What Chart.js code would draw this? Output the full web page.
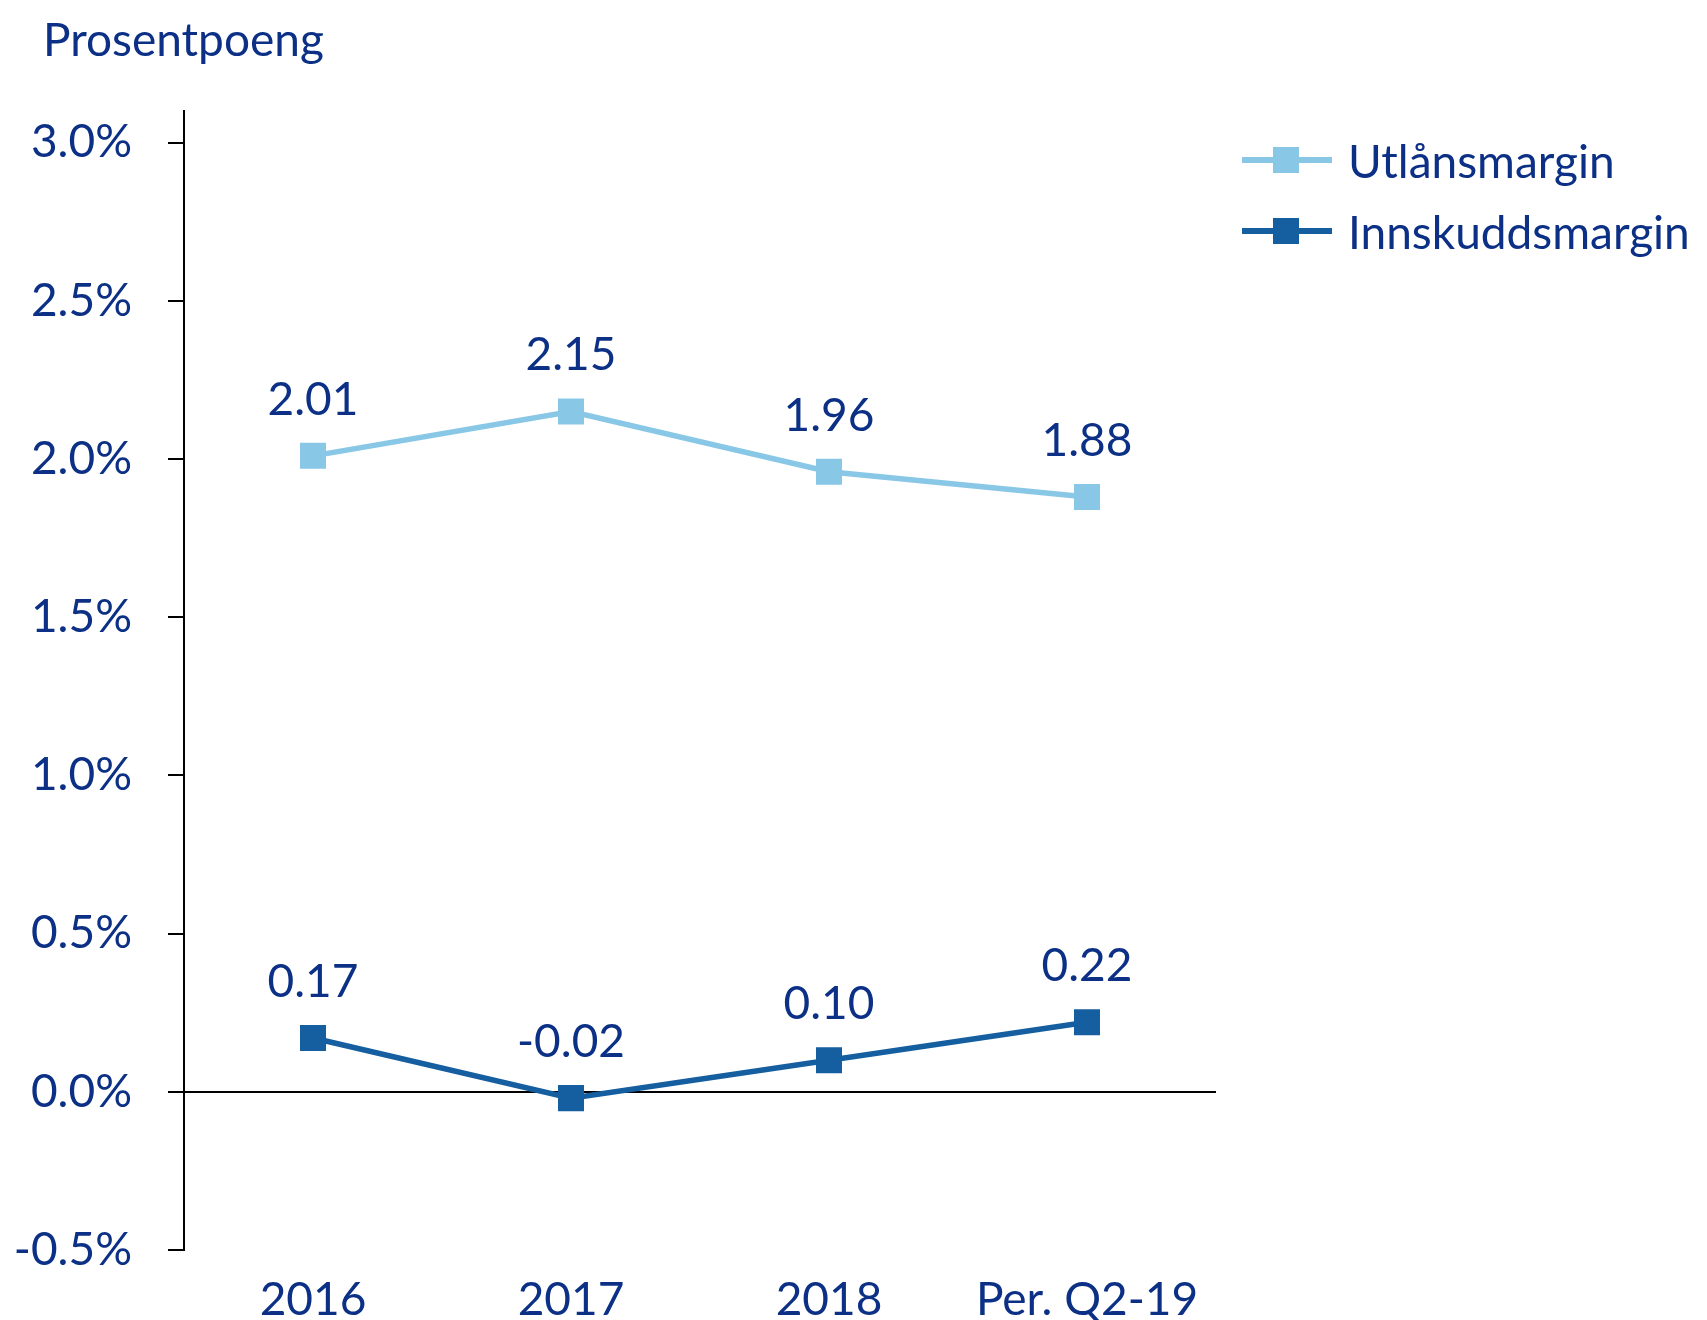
<!DOCTYPE html>
<html><head><meta charset="utf-8">
<script src="https://cdn.jsdelivr.net/npm/chart.js@4/dist/chart.umd.min.js"></script>
<style>html,body{margin:0;padding:0;background:#fff}canvas{display:block}</style>
</head><body>
<canvas id="c" width="1707" height="1320"></canvas>
<script>
const categories = ['2016', '2017', '2018', 'Per. Q2-19'];
const utlansmargin = [2.01, 2.15, 1.96, 1.88];
const innskuddsmargin = [0.17, -0.02, 0.10, 0.22];
const seriesNames = ['Utlånsmargin', 'Innskuddsmargin'];
const yTickValues = [-0.5, 0, 0.5, 1.0, 1.5, 2.0, 2.5, 3.0];
const yTitle = 'Prosentpoeng';

const FONT = 'Lato';
const FS = 46;
const TEXT = '#0b3085';
const LIGHT = '#89c7e6';
const DARK = '#155ea0';

const titlePlugin = {
  id: 'ytitle',
  afterDraw(chart) {
    const ctx = chart.ctx;
    ctx.save();
    ctx.font = FS + 'px ' + FONT;
    ctx.fillStyle = TEXT;
    ctx.textAlign = 'left';
    ctx.textBaseline = 'alphabetic';
    ctx.fillText(yTitle, 43, 56);
    ctx.restore();
  }
};

const labelPlugin = {
  id: 'valuelabels',
  afterDatasetsDraw(chart) {
    const ctx = chart.ctx;
    ctx.save();
    ctx.font = FS + 'px ' + FONT;
    ctx.fillStyle = TEXT;
    ctx.textAlign = 'center';
    ctx.textBaseline = 'middle';
    chart.data.datasets.forEach((ds, di) => {
      const meta = chart.getDatasetMeta(di);
      meta.data.forEach((pt, i) => {
        ctx.fillText(ds.data[i].toFixed(2), pt.x, pt.y - 56);
      });
    });
    ctx.restore();
  }
};

const legendPlugin = {
  id: 'customlegend',
  afterDraw(chart) {
    const ctx = chart.ctx;
    ctx.save();
    chart.data.datasets.forEach((ds, di) => {
      const cy = 160 + di * 71;
      ctx.strokeStyle = ds.borderColor;
      ctx.lineWidth = 6;
      ctx.beginPath();
      ctx.moveTo(1242, cy);
      ctx.lineTo(1332, cy);
      ctx.stroke();
      ctx.fillStyle = ds.pointBackgroundColor;
      ctx.fillRect(1273, cy - 13, 26, 26);
      ctx.font = FS + 'px ' + FONT;
      ctx.fillStyle = TEXT;
      ctx.textAlign = 'left';
      ctx.textBaseline = 'middle';
      ctx.fillText(ds.label, 1348, cy + 3);
    });
    ctx.restore();
  }
};

new Chart(document.getElementById('c'), {
  type: 'line',
  data: {
    labels: categories,
    datasets: [
      { label: seriesNames[0], data: utlansmargin, borderColor: LIGHT, backgroundColor: LIGHT,
        pointBackgroundColor: LIGHT, borderWidth: 5.5, pointStyle: 'rect', pointRadius: 18.4,
        pointHoverRadius: 18.4, pointBorderWidth: 0, tension: 0 },
      { label: seriesNames[1], data: innskuddsmargin, borderColor: DARK, backgroundColor: DARK,
        pointBackgroundColor: DARK, borderWidth: 5.5, pointStyle: 'rect', pointRadius: 18.4,
        pointHoverRadius: 18.4, pointBorderWidth: 0, tension: 0 }
    ]
  },
  options: {
    responsive: false,
    devicePixelRatio: 1,
    animation: false,
    layout: { padding: { top: 111, right: 491, left: 0, bottom: 0 } },
    plugins: { legend: { display: false }, tooltip: { enabled: false } },
    scales: {
      x: {
        position: 'bottom',
        offset: true,
        grid: { display: false, offset: true },
        border: { display: false },
        ticks: { font: { family: FONT, size: FS }, color: TEXT, padding: 15, maxRotation: 0, autoSkip: false },
        afterFit(scale) { scale.height = 70; }
      },
      y: {
        min: -0.5, max: 3.1,
        afterBuildTicks(scale) { scale.ticks = yTickValues.map(v => ({ value: v })); },
        afterFit(scale) { scale.width = 184; },
        border: { display: true, color: '#000', width: 2 },
        grid: {
          drawOnChartArea: true, drawTicks: true, tickLength: 16,
          color: ctx => (ctx.tick && ctx.tick.value === 0) ? '#000' : 'rgba(0,0,0,0)',
          tickColor: '#000', lineWidth: 2, tickWidth: 2
        },
        ticks: {
          font: { family: FONT, size: FS }, color: TEXT, padding: 36,
          callback: v => Number(v).toFixed(1) + '%'
        }
      }
    }
  },
  plugins: [titlePlugin, labelPlugin, legendPlugin]
});
</script>
</body></html>
